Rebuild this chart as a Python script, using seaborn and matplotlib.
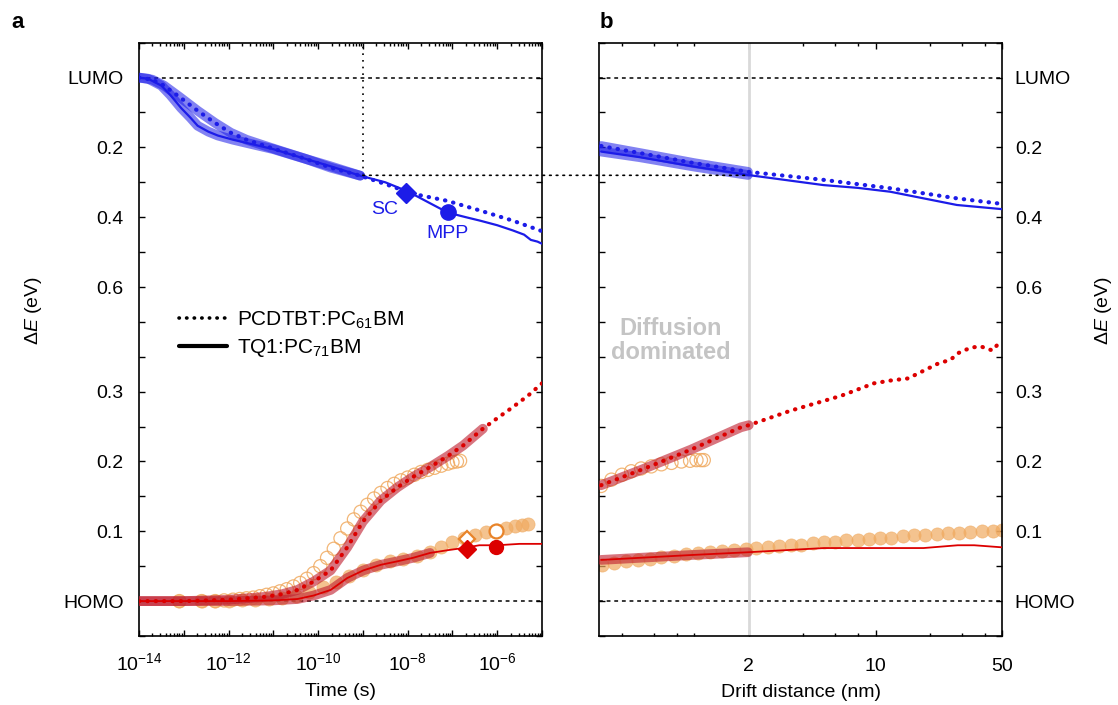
import numpy as np
import pandas as pd
import matplotlib
matplotlib.use("Agg")
import matplotlib.pyplot as plt
import seaborn as sns
import matplotlib.ticker as ticker
from matplotlib.lines import Line2D
from matplotlib.patches import ConnectionPatch

BLUE = "#1c1ce8"
RED = "#dc0000"
BAND_RED = "#c02030"
ORANGE = "#f0aa60"
ORANGE_DARK = "#e8842a"
GREY_LINE = "#d9d9d9"

# ---------------- panel a : x = log10(time / s) ----------------
# upper half, energy below LUMO (eV)
a_pcd_top_t = [-14.0, -13.7, -13.44, -13.1, -12.69, -12.3, -11.95, -11.6, -11.2, -10.84, -10.3, -9.72,
               -9.06, -8.5, -7.88, -7.12, -6.38, -5.65, -5.0]
a_pcd_top_e = [0.0, 0.006, 0.023, 0.055, 0.095, 0.13, 0.158, 0.178, 0.195, 0.21, 0.232, 0.258,
               0.281, 0.305, 0.333, 0.353, 0.381, 0.41, 0.44]
a_tq1_top_t = [-14.0, -13.8, -13.5, -13.3, -13.06, -12.85, -12.69, -12.45, -12.24, -11.9, -11.57, -11.0,
               -10.46, -9.75, -9.06, -8.5, -8.0, -7.5, -7.1, -6.7, -6.38, -6.0, -5.65, -5.4, -5.25, -5.1, -5.0]
a_tq1_top_e = [0.0, 0.003, 0.023, 0.05, 0.087, 0.115, 0.138, 0.155, 0.166, 0.178, 0.188, 0.205,
               0.226, 0.253, 0.281, 0.30, 0.326, 0.36, 0.387, 0.40, 0.41, 0.423, 0.438, 0.45, 0.465, 0.47, 0.476]

# lower half, energy above HOMO (eV)
a_pcd_bot_t = [-14.0, -13.0, -12.0, -11.2, -10.8, -10.46, -10.1, -9.72, -9.35, -9.0, -8.6, -8.23, -7.88,
               -7.5, -7.1, -6.76, -6.32, -6.0, -5.65, -5.3, -5.0]
a_pcd_bot_e = [0.0, 0.0, 0.002, 0.006, 0.01, 0.016, 0.028, 0.044, 0.077, 0.114, 0.144, 0.163, 0.178,
               0.192, 0.208, 0.223, 0.247, 0.262, 0.278, 0.295, 0.312]
a_tq1_bot_t = [-14.0, -12.0, -11.0, -10.46, -10.1, -9.72, -9.35, -8.99, -8.6, -8.23, -7.88, -7.5, -7.1,
               -6.76, -6.4, -6.0, -5.5, -5.0]
a_tq1_bot_e = [0.0, 0.0, 0.001, 0.003, 0.008, 0.016, 0.033, 0.044, 0.052, 0.057, 0.062, 0.069, 0.073,
               0.076, 0.08, 0.08, 0.082, 0.082]

# experimental (orange) points
a_pcd_exp_t = [-13.1, -12.6, -12.3, -12.1, -11.9, -11.75, -11.6, -11.45, -11.3, -11.15, -11.0, -10.85,
               -10.7, -10.55, -10.4, -10.25, -10.1, -9.95, -9.8, -9.65, -9.5, -9.35, -9.2, -9.05, -8.9,
               -8.75, -8.6, -8.45, -8.3, -8.15, -8.0, -7.85, -7.7, -7.55, -7.4, -7.25, -7.1, -7.0, -6.9, -6.83]
a_pcd_exp_e = [0.0, 0.0, 0.0, 0.001, 0.002, 0.003, 0.004, 0.005, 0.007, 0.009, 0.011, 0.014,
               0.017, 0.021, 0.026, 0.032, 0.04, 0.05, 0.062, 0.075, 0.09, 0.104, 0.117, 0.128, 0.138,
               0.147, 0.155, 0.162, 0.168, 0.173, 0.177, 0.181, 0.185, 0.188, 0.191, 0.194, 0.197, 0.199, 0.2, 0.201]
a_tq1_exp_t = [-13.1, -12.6, -12.3, -12.0, -11.7, -11.4, -11.1, -10.8, -10.5, -10.2, -9.9, -9.6, -9.3,
               -9.0, -8.7, -8.4, -8.1, -7.8, -7.5, -7.25, -7.0, -6.75, -6.5, -6.25, -6.0, -5.8, -5.6, -5.45, -5.31]
a_tq1_exp_e = [0.0, 0.0, 0.0, 0.0, 0.001, 0.002, 0.003, 0.005, 0.008, 0.013, 0.02, 0.028, 0.036,
               0.045, 0.052, 0.057, 0.061, 0.065, 0.07, 0.077, 0.084, 0.09, 0.095, 0.099, 0.102, 0.105, 0.107, 0.109, 0.111]

# SC / MPP markers (log10 t, eV)
sc_top = (-8.03, 0.33)
mpp_top = (-7.1, 0.384)
sc_bot = (-6.67, 0.074)
mpp_bot = (-6.02, 0.077)
sc_bot_exp = (-6.67, 0.0895)
mpp_bot_exp = (-6.02, 0.1)

# ---------------- panel b : x = drift distance (nm) ----------------
b_pcd_top_x = [0.307, 0.5, 1.0, 1.98, 5.17, 12.05, 28.1, 50]
b_pcd_top_e = [0.196, 0.216, 0.245, 0.27, 0.293, 0.317, 0.346, 0.362]
b_tq1_top_x = [0.307, 0.5, 1.0, 1.98, 5.17, 8.0, 12.05, 28.1, 50]
b_tq1_top_e = [0.212, 0.228, 0.255, 0.279, 0.308, 0.316, 0.327, 0.365, 0.377]

b_pcd_bot_x = [0.307, 0.51, 0.96, 1.81, 2.0, 3.42, 6.44, 9.8, 12.1, 15.1, 18.4, 22, 26, 28.4, 33.4,
               37.9, 44.2, 47.6, 50]
b_pcd_bot_e = [0.166, 0.188, 0.217, 0.249, 0.252, 0.273, 0.294, 0.312, 0.316, 0.319, 0.33, 0.34, 0.346,
               0.355, 0.363, 0.365, 0.359, 0.369, 0.372]
b_tq1_bot_x = [0.307, 0.96, 1.98, 5.2, 18.4, 28.4, 35, 50]
b_tq1_bot_e = [0.059, 0.066, 0.07, 0.076, 0.076, 0.08, 0.08, 0.077]

b_pcd_exp_x = [0.307, 0.35, 0.4, 0.45, 0.51, 0.58, 0.66, 0.75, 0.85, 0.95, 1.03, 1.09, 1.13]
b_pcd_exp_e = [0.165, 0.174, 0.181, 0.186, 0.19, 0.193, 0.196, 0.198, 0.2, 0.201, 0.202, 0.202, 0.202]
b_tq1_exp_x = [0.31, 0.36, 0.42, 0.49, 0.57, 0.66, 0.77, 0.9, 1.05, 1.22, 1.42, 1.66, 1.93, 2.2, 2.55,
               2.95, 3.4, 3.9, 4.5, 5.2, 6.0, 6.9, 8.0, 9.2, 10.6, 12.2, 14.1, 16.3, 18.8, 21.7, 25,
               28.9, 33.3, 38.4, 44.3, 50]
b_tq1_exp_e = [0.052, 0.055, 0.057, 0.059, 0.061, 0.063, 0.065, 0.067, 0.069, 0.07, 0.072, 0.073, 0.075,
               0.076, 0.077, 0.079, 0.08, 0.081, 0.083, 0.084, 0.085, 0.087, 0.088, 0.089, 0.09, 0.091,
               0.093, 0.094, 0.095, 0.096, 0.097, 0.098, 0.099, 0.1, 0.101, 0.102]

# y axis: top half counts down from LUMO (0.2 eV per unit), bottom half up from HOMO (0.1 eV per unit)
def top(e):
    return 7.5 - 5.0 * np.asarray(e, dtype=float)

def bot(e):
    return 10.0 * np.asarray(e, dtype=float)

top_ticks = [0.0, 0.2, 0.4, 0.6]
top_labels = ["LUMO", "0.2", "0.4", "0.6"]
bot_ticks = [0.0, 0.1, 0.2, 0.3]
bot_labels = ["HOMO", "0.1", "0.2", "0.3"]

sns.set_style("ticks", {"axes.edgecolor": "black", "xtick.color": "black", "ytick.color": "black",
                        "text.color": "black", "axes.labelcolor": "black"})
plt.rcParams["font.family"] = ["Liberation Sans", "DejaVu Sans"]
plt.rcParams["font.size"] = 14
plt.rcParams["mathtext.fontset"] = "custom"
plt.rcParams["mathtext.rm"] = "Liberation Sans"
plt.rcParams["mathtext.it"] = "Liberation Sans:italic"
plt.rcParams["mathtext.bf"] = "Liberation Sans:bold"
plt.rcParams["axes.linewidth"] = 1.2

DOT = (0, (0.1, 1.9))
FINE_DOT = (0, (1, 3))
DASH = (0, (2.5, 2.5))

fig = plt.figure(figsize=(11.18, 7.05), dpi=100)
H = (636 - 42.7) / 705
ax_a = fig.add_axes([139 / 1118, 1 - 636 / 705, 403 / 1118, H])
ax_b = fig.add_axes([599.3 / 1118, 1 - 636 / 705, 403 / 1118, H])


def line(ax, x, y, **kw):
    sns.lineplot(x=np.asarray(x, dtype=float), y=np.asarray(y, dtype=float), ax=ax,
                 sort=False, estimator=None, **kw)


def curve_set(ax, x, y, color, line_color, dotted, band_max, lw_line, band_alpha, lw_band=7):
    df = pd.DataFrame({"x": np.asarray(x, dtype=float), "y": np.asarray(y, dtype=float)})
    band = df[df["x"] <= band_max]
    line(ax, band["x"], band["y"], color=color, lw=lw_band, alpha=band_alpha,
         solid_capstyle="round", zorder=3)
    if dotted:
        line(ax, df["x"], df["y"], color=line_color, lw=3.0, linestyle=DOT,
             dash_capstyle="round", zorder=4)
    else:
        line(ax, df["x"], df["y"], color=line_color, lw=lw_line, zorder=4)


def scatter_open(ax, x, y, s=90):
    sns.scatterplot(x=np.asarray(x, dtype=float), y=np.asarray(y, dtype=float), ax=ax, s=s,
                    facecolor="none", edgecolor=ORANGE, linewidth=0.9, alpha=0.85, zorder=2, legend=False)


def scatter_fill(ax, x, y, s=90):
    sns.scatterplot(x=np.asarray(x, dtype=float), y=np.asarray(y, dtype=float), ax=ax, s=s,
                    color=ORANGE, edgecolor=ORANGE, linewidth=0.5, alpha=0.7, zorder=2, legend=False)


# ---------------- panel a ----------------
ta = lambda v: 10.0 ** np.asarray(v, dtype=float)

scatter_open(ax_a, ta(a_pcd_exp_t), bot(a_pcd_exp_e))
scatter_fill(ax_a, ta(a_tq1_exp_t), bot(a_tq1_exp_e))
curve_set(ax_a, ta(a_pcd_top_t), top(a_pcd_top_e), BLUE, BLUE, True, 1e-9, 1.6, 0.55)
curve_set(ax_a, ta(a_tq1_top_t), top(a_tq1_top_e), BLUE, BLUE, False, 1e-9, 1.6, 0.55)
curve_set(ax_a, ta(a_pcd_bot_t), bot(a_pcd_bot_e), BAND_RED, RED, True, 10 ** -6.32, 1.3, 0.62)
curve_set(ax_a, ta(a_tq1_bot_t), bot(a_tq1_bot_e), BAND_RED, RED, False, 10 ** -7.5, 1.3, 0.62)

ax_a.plot(ta([sc_top[0]]), top([sc_top[1]]), marker="D", ms=10, color=BLUE, ls="none", zorder=6)
ax_a.plot(ta([mpp_top[0]]), top([mpp_top[1]]), marker="o", ms=11, color=BLUE, ls="none", zorder=6)
ax_a.plot(ta([sc_bot[0]]), bot([sc_bot[1]]), marker="D", ms=9, color=RED, ls="none", zorder=6)
ax_a.plot(ta([mpp_bot[0]]), bot([mpp_bot[1]]), marker="o", ms=10, color=RED, ls="none", zorder=6)
ax_a.plot(ta([sc_bot_exp[0]]), bot([sc_bot_exp[1]]), marker="D", ms=8, mfc="white", mec=ORANGE_DARK,
          mew=1.6, ls="none", zorder=5)
ax_a.plot(ta([mpp_bot_exp[0]]), bot([mpp_bot_exp[1]]), marker="o", ms=10, mfc="white", mec=ORANGE_DARK,
          mew=1.6, ls="none", zorder=5)
ax_a.text(10 ** -8.52, top(0.377), "SC", color=BLUE, ha="center", va="center", fontsize=14)
ax_a.text(10 ** -7.12, top(0.448), "MPP", color=BLUE, ha="center", va="center", fontsize=14)

ax_a.vlines(1e-9, top(0.28), 8.0, colors="k", lw=1.2, linestyles=FINE_DOT, zorder=1)

# ---------------- panel b ----------------
ax_b.axvline(2, color=GREY_LINE, lw=2, zorder=1)
scatter_open(ax_b, b_pcd_exp_x, bot(b_pcd_exp_e))
scatter_fill(ax_b, b_tq1_exp_x, bot(b_tq1_exp_e))
curve_set(ax_b, b_pcd_top_x, top(b_pcd_top_e), BLUE, BLUE, True, 2.0, 1.6, 0.55)
curve_set(ax_b, b_tq1_top_x, top(b_tq1_top_e), BLUE, BLUE, False, 2.0, 1.6, 0.55)
curve_set(ax_b, b_pcd_bot_x, bot(b_pcd_bot_e), BAND_RED, RED, True, 2.0, 1.3, 0.62)
curve_set(ax_b, b_tq1_bot_x, bot(b_tq1_bot_e), BAND_RED, RED, False, 2.0, 1.3, 0.62)
ax_b.text(0.177, 0.498, "Diffusion\ndominated", transform=ax_b.transAxes, ha="center", va="center",
          fontsize=17, fontweight="bold", color="#c4c4c4", linespacing=1.05)

con = ConnectionPatch(xyA=(1e-9, float(top(0.28))), coordsA=ax_a.transData,
                      xyB=(2.0, float(top(0.28))), coordsB=ax_b.transData,
                      color="k", lw=1.2, linestyle=FINE_DOT, zorder=1)
fig.add_artist(con)

# ---------------- axes styling ----------------
ytick_pos = list(bot(bot_ticks)) + list(top(top_ticks))
ytick_lab = bot_labels + top_labels
for ax in (ax_a, ax_b):
    ax.axhline(float(top(0)), color="k", lw=1.1, ls=DASH, zorder=1)
    ax.axhline(float(bot(0)), color="k", lw=1.1, ls=DASH, zorder=1)
    ax.set_xscale("log")
    ax.set_ylim(-0.5, 8.0)
    ax.set_yticks(ytick_pos)
    ax.set_yticklabels(ytick_lab)
    ax.yaxis.set_minor_locator(ticker.MultipleLocator(0.5))
    ax.tick_params(axis="both", which="both", direction="in", top=True, right=True,
                   width=1.0, labelsize=14)
    ax.tick_params(axis="y", which="both", length=4.5)
    ax.tick_params(axis="x", which="major", length=4.5)
    ax.tick_params(axis="x", which="minor", length=2.5)
    ax.set_ylabel("")

ax_a.set_xlim(1e-14, 1e-5)
ax_a.xaxis.set_major_locator(ticker.LogLocator(base=10, numticks=20))
ax_a.xaxis.set_minor_locator(ticker.LogLocator(base=10, subs=np.arange(2, 10), numticks=20))
ax_a.xaxis.set_major_formatter(ticker.FuncFormatter(
    lambda v, p: "$10^{%d}$" % round(np.log10(v)) if round(np.log10(v)) % 2 == 0 else ""))
ax_a.xaxis.set_minor_formatter(ticker.NullFormatter())
ax_a.tick_params(axis="x", pad=12)
ax_a.tick_params(axis="y", pad=11, labelleft=True, labelright=False)
ax_a.set_xlabel("Time (s)", fontsize=14, labelpad=6)

ax_b.set_xlim(0.3, 50)
ax_b.xaxis.set_major_locator(ticker.FixedLocator([2, 10, 50]))
ax_b.xaxis.set_major_formatter(ticker.FixedFormatter(["2", "10", "50"]))
ax_b.xaxis.set_minor_locator(ticker.FixedLocator([0.4, 0.6, 0.8, 1, 4, 6, 8, 20, 30, 40]))
ax_b.xaxis.set_minor_formatter(ticker.NullFormatter())
ax_b.tick_params(axis="x", pad=16)
ax_b.tick_params(axis="y", pad=9, labelleft=False, labelright=True)
ax_b.set_xlabel("Drift distance (nm)", fontsize=14, labelpad=6)

fig.text(33 / 1118, 1 - 310 / 705, r"$\Delta E$ (eV)", rotation=90, ha="center", va="center", fontsize=14)
fig.text(1103 / 1118, 1 - 310 / 705, r"$\Delta E$ (eV)", rotation=90, ha="center", va="center", fontsize=14)
fig.text(18 / 1118, 1 - 22 / 705, "a", fontsize=16, fontweight="bold", ha="center", va="center")
fig.text(606 / 1118, 1 - 22 / 705, "b", fontsize=16, fontweight="bold", ha="center", va="center")

handles = [Line2D([], [], color="k", lw=2.6, linestyle=(0, (0.1, 2.0)), dash_capstyle="round"),
           Line2D([], [], color="k", lw=3.0)]
labels = [r"PCDTBT:PC$_{61}$BM", r"TQ1:PC$_{71}$BM"]
ax_a.legend(handles, labels, loc="upper left", bbox_to_anchor=(0.1, 0.55), frameon=False,
            fontsize=15, handlelength=2.3, handletextpad=0.45, labelspacing=0.3,
            borderpad=0, borderaxespad=0)

fig.savefig("out.png", dpi=100)
